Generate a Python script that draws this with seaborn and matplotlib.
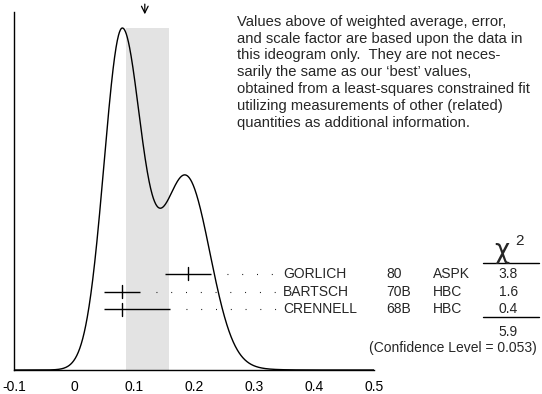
import numpy as np
import seaborn as sns
import matplotlib
matplotlib.use("Agg")
import matplotlib.pyplot as plt

# measurements shown in the ideogram (value, -error, +error)
names = ["GORLICH", "BARTSCH", "CRENNELL"]
years = ["80", "70B", "68B"]
techs = ["ASPK", "HBC", "HBC"]
values = [0.19, 0.08, 0.08]
err_lo = [0.038, 0.03, 0.03]
err_hi = [0.038, 0.03, 0.08]
chi2 = ["3.8", "1.6", "0.4"]
chi2_total = "5.9"
conf_level = "(Confidence Level = 0.053)"

# weighted average and its error (the shaded band)
avg = 0.122
avg_err = 0.036
arrow_x = 0.118

note = ("Values above of weighted average, error,\n"
        "and scale factor are based upon the data in\n"
        "this ideogram only.  They are not neces-\n"
        "sarily the same as our \u2018best\u2019 values,\n"
        "obtained from a least-squares constrained fit\n"
        "utilizing measurements of other (related)\n"
        "quantities as additional information.")

sns.set_style("white")
plt.rcParams['font.family'] = ['Liberation Sans', 'DejaVu Sans']
plt.rcParams['axes.unicode_minus'] = False


def ideogram(x):
    # each measurement is a gaussian of area ~ 1/sigma
    total = np.zeros_like(x)
    for v, lo, hi in zip(values, err_lo, err_hi):
        s = np.where(x < v, lo, hi)
        h = 1.0 / ((lo + hi) / 2) ** 2
        total += h * np.exp(-0.5 * ((x - v) / s) ** 2)
    return total / total.max()


fig = plt.figure(figsize=(5.42, 3.94), dpi=100)
ax = fig.add_axes([14 / 542, 24 / 394, 360 / 542, 358 / 394])

xs = np.linspace(-0.1, 0.5, 1200)
ys = ideogram(xs)
ax.axvspan(avg - avg_err, avg + avg_err, ymin=0, ymax=1 / 1.0468,
           color="#e3e3e3", lw=0, zorder=0)
sns.lineplot(x=xs, y=ys, ax=ax, color="black", lw=1.0, zorder=3)

ax.set_xlim(-0.1, 0.5)
ax.set_ylim(0, 1.0468)
sns.despine(ax=ax)
for side in ['left', 'bottom']:
    ax.spines[side].set_linewidth(1.0)
    ax.spines[side].set_color('black')
ax.set_yticks([])
ticks = [-0.1, 0, 0.1, 0.2, 0.3, 0.4, 0.5]
ax.set_xticks(ticks)
ax.set_xticklabels(["-0.1", "0", "0.1", "0.2", "0.3", "0.4", "0.5"], fontsize=10)
ax.tick_params(axis='x', direction='in', length=6.5, width=1.0, pad=7, colors='black')
ax.set_xlabel("")
ax.set_ylabel("")

# arrow marking the weighted average
ax.annotate("", xy=(arrow_x, 1.032), xytext=(arrow_x, 1.078),
            arrowprops=dict(arrowstyle="->", color="black", lw=0.9,
                            mutation_scale=12),
            annotation_clip=False)

# measurements with error bars and labels
row_y = [0.281, 0.229, 0.178]
name_x = 0.348
for i, (n, yr, t, v, lo, hi, c) in enumerate(zip(names, years, techs, values,
                                                  err_lo, err_hi, chi2)):
    y = row_y[i]
    ax.errorbar([v], [y], xerr=[[lo], [hi]], fmt='none', ecolor='black',
                elinewidth=1.0, capsize=0, zorder=4)
    ax.plot([v, v], [y - 0.019, y + 0.019], color='black', lw=1.0, zorder=4)
    ax.plot([v + hi + 0.027, name_x - 0.012], [y, y], color='black', lw=0.8,
            linestyle=(0, (0.8, 12.5)), zorder=4)
    ax.text(name_x, y, n, fontsize=10, va='center', ha='left', clip_on=False)
    ax.text(0.521, y, yr, fontsize=10, va='center', ha='left', clip_on=False)
    ax.text(0.598, y, t, fontsize=10, va='center', ha='left', clip_on=False)
    ax.text(0.724, y, c, fontsize=10, va='center', ha='center', clip_on=False)

# chi-square column
ax.text(0.713, 0.327, "\u03c7", fontsize=19, ha='center', va='baseline',
        family=['DejaVu Sans'], clip_on=False)
ax.text(0.742, 0.365, "2", fontsize=11, ha='center', va='baseline',
        clip_on=False)
ax.plot([0.6817, 0.775], [0.312, 0.312], color='black', lw=1.0, clip_on=False)
ax.plot([0.6817, 0.775], [0.154, 0.154], color='black', lw=1.0, clip_on=False)
ax.text(0.724, 0.112, chi2_total, fontsize=10, va='center', ha='center',
        clip_on=False)
ax.text(0.771, 0.0634, conf_level, fontsize=10, va='center', ha='right',
        clip_on=False)

fig.text(237 / 542, 1 - 15 / 394, note, fontsize=10.6, va='top', ha='left',
         linespacing=1.25)

fig.savefig("out.png", dpi=100)
